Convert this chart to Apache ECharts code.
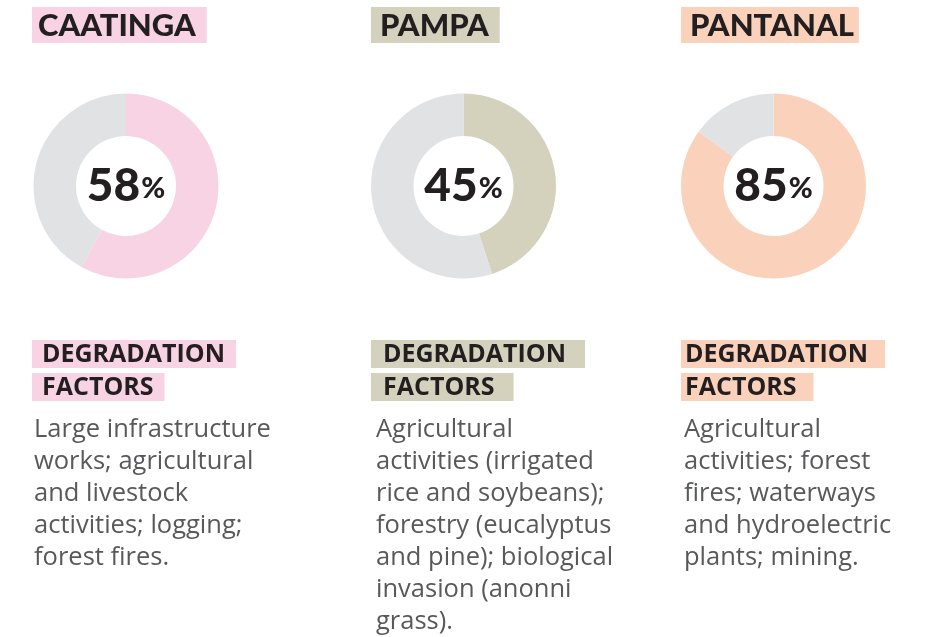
<!DOCTYPE html>
<html>
<head>
<meta charset="utf-8">
<script src="https://cdn.jsdelivr.net/npm/echarts@6/dist/echarts.min.js"></script>
<style>
  html, body { margin: 0; padding: 0; background: #ffffff; }
  #chart { width: 937px; height: 637px; }
</style>
</head>
<body>
<div id="chart"></div>
<script>
// Biomes and the share of each one that has been degraded (%)
const biomes = ['CAATINGA', 'PAMPA', 'PANTANAL'];
const degradedShare = [58, 45, 85];
const accentColors = ['#F8D3E3', '#D4D2BD', '#FAD2BC'];
const restColor = '#E1E2E4';
const factorsHeading = ['DEGRADATION', 'FACTORS'];
const factorTexts = [
  'Large infrastructure\nworks; agricultural\nand livestock\nactivities; logging;\nforest fires.',
  'Agricultural\nactivities (irrigated\nrice and soybeans);\nforestry (eucalyptus\nand pine); biological\ninvasion (anonni\ngrass).',
  'Agricultural\nactivities; forest\nfires; waterways\nand hydroelectric\nplants; mining.'
];

// Layout per column
const donutCenters = [[126, 186], [463.5, 186], [773.5, 186]];
const titleLeft = [32, 371, 681];
const titlePad = [[3, 11, 2, 6], [3, 11, 2, 9], [3, 5, 2, 9]];
const headLeft = [32, 371, 681];
const headPad = [[2, 11, 1, 10], [2, 19, 1, 12], [2, 17, 1, 4]];
const bodyLeft = [34, 376, 684];

const ink = '#231F20';
const titleFont = '900 31px Lato, "Open Sans", sans-serif';
const headFont = 'bold 25px "Open Sans", "Noto Sans", sans-serif';
const bodyFont = '25.5px "Open Sans", "Noto Sans", sans-serif';

const series = biomes.map((name, i) => ({
  type: 'pie',
  name: name,
  center: donutCenters[i],
  radius: [50, 92.5],
  startAngle: 90,
  clockwise: true,
  silent: true,
  animation: false,
  labelLine: { show: false },
  itemStyle: { borderWidth: 0 },
  emphasis: { disabled: true },
  data: [
    {
      value: degradedShare[i],
      name: 'degraded',
      itemStyle: { color: accentColors[i] },
      label: {
        show: true,
        position: 'center',
        formatter: '{n|' + degradedShare[i] + '}{p|%}',
        rich: {
          n: { fontFamily: 'Lato', fontWeight: 900, fontSize: 46, color: ink },
          p: { fontFamily: 'Lato', fontWeight: 900, fontSize: 29, color: ink, padding: [6, 0, 0, 1] }
        }
      }
    },
    {
      value: 100 - degradedShare[i],
      name: 'rest',
      itemStyle: { color: restColor },
      label: { show: false }
    }
  ]
}));

const graphics = [];
biomes.forEach((name, i) => {
  graphics.push({
    type: 'text',
    left: titleLeft[i],
    top: 7,
    style: {
      text: name,
      font: titleFont,
      fill: ink,
      backgroundColor: accentColors[i],
      padding: titlePad[i]
    }
  });
  factorsHeading.forEach((line, k) => {
    graphics.push({
      type: 'text',
      left: headLeft[i],
      top: 340 + k * 33,
      style: {
        text: line,
        font: headFont,
        fill: ink,
        backgroundColor: accentColors[i],
        padding: headPad[i]
      }
    });
  });
  graphics.push({
    type: 'text',
    left: bodyLeft[i],
    top: 414,
    style: {
      text: factorTexts[i],
      font: bodyFont,
      fill: '#58595B',
      lineHeight: 32
    }
  });
});

const chart = echarts.init(document.getElementById('chart'), null, { renderer: 'canvas' });
chart.setOption({
  backgroundColor: '#ffffff',
  animation: false,
  series: series,
  graphic: graphics
});
</script>
</body>
</html>
